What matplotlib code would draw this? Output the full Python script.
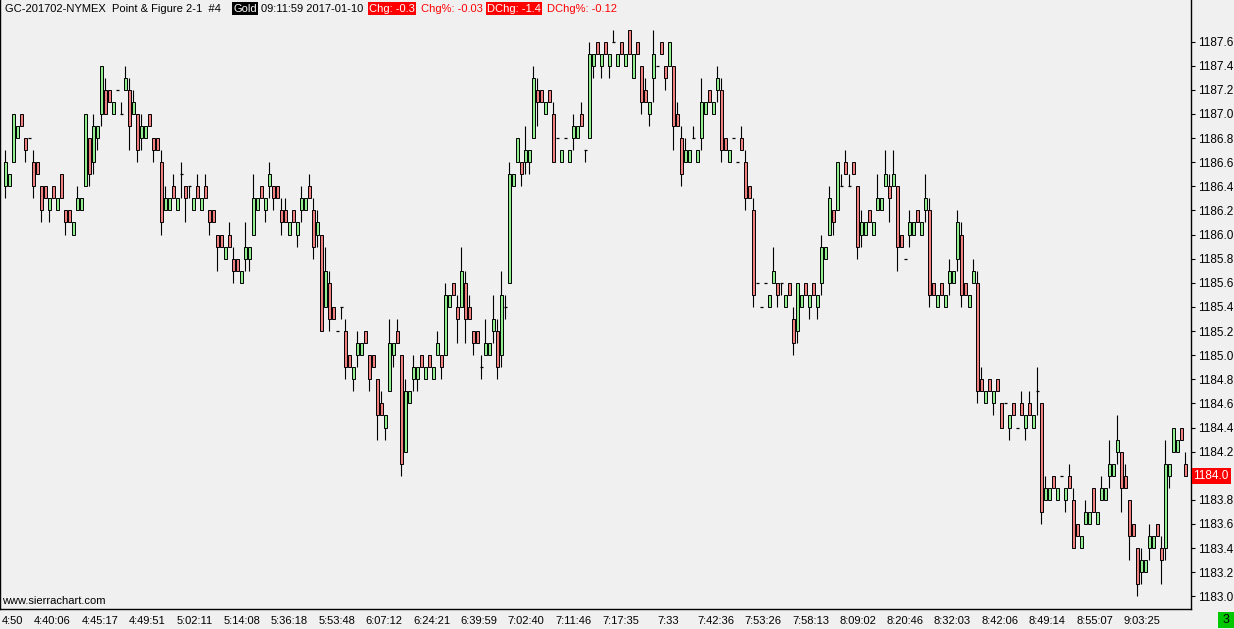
import matplotlib
matplotlib.use('Agg')
import matplotlib.pyplot as plt
from matplotlib.patches import Rectangle
import numpy as np

# Point & Figure columns drawn as candles (open, close, high, low)
opens = [
    1186.4, 1186.4, 1186.6, 1186.8, 1187.0, 1186.8, 1186.8, 1186.6, 1186.6, 1186.4,
    1186.4, 1186.2, 1186.4, 1186.2, 1186.5, 1186.2, 1186.2, 1186.0, 1186.2, 1186.2,
    1186.4, 1186.8, 1186.6, 1186.8, 1187.0, 1187.2, 1187.2, 1187.0, 1187.2, 1187.0,
    1187.2, 1187.2, 1187.0, 1187.0, 1186.8, 1186.8, 1187.0, 1186.8, 1186.8, 1186.6,
    1186.2, 1186.2, 1186.4, 1186.2, 1186.5, 1186.4, 1186.4, 1186.2, 1186.4, 1186.2,
    1186.4, 1186.2, 1186.2, 1186.0, 1186.0, 1185.8, 1186.0, 1185.8, 1185.8, 1185.6,
    1185.8, 1185.8, 1186.0, 1186.2, 1186.4, 1186.2, 1186.4, 1186.4, 1186.4, 1186.2,
    1186.2, 1186.0, 1186.2, 1186.0, 1186.2, 1186.2, 1186.4, 1186.2, 1186.0, 1186.0,
    1185.4, 1185.6, 1185.4, 1185.2, 1185.4, 1185.2, 1185.0, 1184.8, 1185.0, 1185.0,
    1185.2, 1185.0, 1185.0, 1184.8, 1184.6, 1184.4, 1184.7, 1185.0, 1185.2, 1185.0,
    1184.2, 1184.6, 1184.8, 1184.8, 1185.0, 1184.8, 1185.0, 1184.8, 1185.0, 1185.0,
    1185.0, 1185.4, 1185.6, 1185.4, 1185.4, 1185.6, 1185.4, 1185.2, 1185.2, 1184.9,
    1185.0, 1185.0, 1185.2, 1185.2, 1185.0, 1185.4, 1185.6, 1186.4, 1186.6, 1186.6,
    1186.6, 1186.6, 1186.8, 1187.2, 1187.2, 1187.0, 1187.2, 1187.0, 1186.8, 1186.6,
    1186.8, 1186.6, 1186.8, 1186.8, 1187.0, 1186.7, 1186.8, 1187.4, 1187.6, 1187.4,
    1187.6, 1187.4, 1187.6, 1187.4, 1187.6, 1187.4, 1187.7, 1187.3, 1187.6, 1187.4,
    1187.2, 1187.0, 1187.3, 1187.4, 1187.6, 1187.4, 1187.4, 1187.4, 1187.0, 1186.8,
    1186.6, 1186.6, 1186.8, 1186.6, 1186.8, 1187.0, 1187.2, 1187.0, 1187.2, 1187.2,
    1186.8, 1186.6, 1186.8, 1186.6, 1186.8, 1186.6, 1186.4, 1186.2, 1185.6, 1185.4,
    1185.6, 1185.4, 1185.6, 1185.6, 1185.6, 1185.4, 1185.6, 1185.3, 1185.2, 1185.4,
    1185.6, 1185.4, 1185.6, 1185.4, 1185.6, 1185.8, 1186.0, 1186.2, 1186.2, 1186.4,
    1186.6, 1186.4, 1186.6, 1186.4, 1186.0, 1186.0, 1186.2, 1186.0, 1186.2, 1186.2,
    1186.4, 1186.4, 1186.4, 1186.4, 1186.0, 1185.8, 1186.0, 1186.0, 1186.2, 1186.0,
    1186.2, 1186.2, 1185.6, 1185.4, 1185.6, 1185.4, 1185.6, 1185.6, 1185.8, 1186.0,
    1185.6, 1185.4, 1185.6, 1185.6, 1184.8, 1184.6, 1184.8, 1184.6, 1184.8, 1184.6,
    1184.6, 1184.4, 1184.6, 1184.4, 1184.6, 1184.4, 1184.6, 1184.4, 1184.7, 1184.6,
    1183.8, 1183.8, 1184.0, 1183.8, 1184.0, 1183.8, 1184.0, 1183.8, 1183.6, 1183.4,
    1183.6, 1183.6, 1183.9, 1183.6, 1183.8, 1183.8, 1184.0, 1184.0, 1184.2, 1184.2,
    1184.0, 1183.8, 1183.6, 1183.4, 1183.2, 1183.2, 1183.4, 1183.4, 1183.6, 1183.4,
    1183.4, 1184.0, 1184.2, 1184.2, 1184.4, 1184.1,
]
closes = [
    1186.6, 1186.5, 1187.0, 1186.9, 1186.9, 1186.7, 1186.8, 1186.4, 1186.5, 1186.2,
    1186.3, 1186.3, 1186.3, 1186.3, 1186.3, 1186.1, 1186.1, 1186.1, 1186.3, 1186.3,
    1187.0, 1186.5, 1186.9, 1186.9, 1187.4, 1187.0, 1187.1, 1187.1, 1187.2, 1187.0,
    1187.3, 1186.9, 1187.1, 1186.7, 1186.9, 1186.9, 1186.9, 1186.7, 1186.7, 1186.1,
    1186.3, 1186.3, 1186.3, 1186.3, 1186.5, 1186.3, 1186.4, 1186.3, 1186.3, 1186.3,
    1186.3, 1186.1, 1186.1, 1185.9, 1185.9, 1185.9, 1185.9, 1185.7, 1185.7, 1185.7,
    1185.9, 1185.9, 1186.3, 1186.3, 1186.3, 1186.3, 1186.5, 1186.3, 1186.3, 1186.1,
    1186.1, 1186.1, 1186.1, 1186.1, 1186.3, 1186.3, 1186.3, 1185.9, 1186.1, 1185.2,
    1185.7, 1185.3, 1185.3, 1185.2, 1185.4, 1184.9, 1184.9, 1184.9, 1185.1, 1185.1,
    1185.1, 1184.8, 1184.9, 1184.5, 1184.5, 1184.5, 1185.1, 1185.1, 1185.1, 1184.1,
    1184.7, 1184.7, 1184.9, 1184.9, 1184.9, 1184.9, 1184.9, 1184.9, 1185.1, 1184.9,
    1185.5, 1185.5, 1185.5, 1185.3, 1185.7, 1185.3, 1185.3, 1185.1, 1185.1, 1184.9,
    1185.1, 1185.1, 1185.3, 1184.9, 1185.5, 1185.4, 1186.5, 1186.5, 1186.8, 1186.5,
    1186.7, 1186.7, 1187.3, 1187.1, 1187.1, 1187.1, 1187.1, 1186.6, 1186.8, 1186.7,
    1186.8, 1186.7, 1186.9, 1186.9, 1186.9, 1186.7, 1187.5, 1187.5, 1187.5, 1187.5,
    1187.5, 1187.5, 1187.6, 1187.5, 1187.5, 1187.5, 1187.5, 1187.5, 1187.5, 1187.1,
    1187.1, 1187.1, 1187.5, 1187.4, 1187.5, 1187.3, 1187.6, 1186.9, 1186.9, 1186.5,
    1186.7, 1186.7, 1186.8, 1186.7, 1187.1, 1187.1, 1187.1, 1187.1, 1187.3, 1186.7,
    1186.7, 1186.7, 1186.8, 1186.6, 1186.7, 1186.3, 1186.3, 1185.5, 1185.6, 1185.4,
    1185.6, 1185.5, 1185.7, 1185.5, 1185.6, 1185.5, 1185.5, 1185.1, 1185.6, 1185.5,
    1185.5, 1185.5, 1185.5, 1185.5, 1185.9, 1185.9, 1186.3, 1186.1, 1186.6, 1186.4,
    1186.5, 1186.4, 1186.5, 1185.9, 1186.1, 1186.1, 1186.1, 1186.1, 1186.3, 1186.3,
    1186.5, 1186.3, 1186.5, 1185.9, 1185.9, 1185.8, 1186.1, 1186.1, 1186.1, 1186.1,
    1186.3, 1185.5, 1185.5, 1185.5, 1185.5, 1185.5, 1185.7, 1185.7, 1186.1, 1185.5,
    1185.5, 1185.5, 1185.7, 1184.7, 1184.7, 1184.7, 1184.7, 1184.7, 1184.7, 1184.4,
    1184.6, 1184.5, 1184.5, 1184.4, 1184.5, 1184.5, 1184.5, 1184.5, 1184.7, 1183.7,
    1183.9, 1183.9, 1183.9, 1183.9, 1184.0, 1183.9, 1183.9, 1183.4, 1183.5, 1183.5,
    1183.7, 1183.7, 1183.7, 1183.7, 1183.9, 1183.9, 1184.1, 1184.1, 1184.3, 1183.9,
    1183.9, 1183.5, 1183.5, 1183.1, 1183.3, 1183.3, 1183.5, 1183.5, 1183.5, 1183.3,
    1184.1, 1184.1, 1184.4, 1184.3, 1184.3, 1184.0,
]
highs = [
    1186.7, 1186.5, 1187.0, 1186.9, 1187.0, 1186.8, 1186.8, 1186.7, 1186.6, 1186.4,
    1186.4, 1186.3, 1186.4, 1186.3, 1186.5, 1186.2, 1186.2, 1186.1, 1186.4, 1186.3,
    1187.0, 1186.8, 1187.0, 1186.9, 1187.4, 1187.3, 1187.2, 1187.1, 1187.2, 1187.1,
    1187.4, 1187.3, 1187.2, 1187.0, 1187.0, 1186.9, 1187.0, 1186.8, 1186.8, 1186.7,
    1186.4, 1186.3, 1186.5, 1186.3, 1186.6, 1186.4, 1186.4, 1186.3, 1186.5, 1186.3,
    1186.5, 1186.2, 1186.2, 1186.0, 1186.0, 1185.9, 1186.1, 1185.9, 1185.8, 1185.7,
    1186.1, 1185.9, 1186.5, 1186.3, 1186.4, 1186.3, 1186.6, 1186.4, 1186.4, 1186.3,
    1186.3, 1186.1, 1186.2, 1186.1, 1186.4, 1186.3, 1186.5, 1186.3, 1186.2, 1186.0,
    1185.9, 1185.7, 1185.4, 1185.2, 1185.4, 1185.3, 1185.0, 1184.9, 1185.2, 1185.1,
    1185.2, 1185.0, 1185.0, 1184.8, 1184.7, 1184.5, 1185.3, 1185.1, 1185.3, 1185.0,
    1184.8, 1184.7, 1185.0, 1184.9, 1185.0, 1184.9, 1185.0, 1184.9, 1185.2, 1185.0,
    1185.6, 1185.5, 1185.6, 1185.5, 1185.9, 1185.7, 1185.5, 1185.2, 1185.2, 1185.0,
    1185.3, 1185.1, 1185.5, 1185.3, 1185.7, 1185.5, 1186.6, 1186.5, 1186.8, 1186.6,
    1186.9, 1186.7, 1187.4, 1187.3, 1187.2, 1187.1, 1187.2, 1187.1, 1186.8, 1186.7,
    1186.8, 1186.7, 1187.0, 1186.9, 1187.1, 1186.7, 1187.6, 1187.5, 1187.6, 1187.5,
    1187.6, 1187.5, 1187.7, 1187.5, 1187.6, 1187.5, 1187.7, 1187.5, 1187.6, 1187.4,
    1187.3, 1187.1, 1187.7, 1187.4, 1187.6, 1187.4, 1187.6, 1187.4, 1187.1, 1186.9,
    1186.8, 1186.7, 1186.9, 1186.7, 1187.3, 1187.1, 1187.2, 1187.1, 1187.4, 1187.3,
    1186.8, 1186.7, 1186.8, 1186.6, 1186.9, 1186.7, 1186.4, 1186.3, 1185.6, 1185.4,
    1185.6, 1185.5, 1185.9, 1185.6, 1185.6, 1185.5, 1185.6, 1185.4, 1185.6, 1185.5,
    1185.6, 1185.5, 1185.6, 1185.5, 1186.0, 1185.9, 1186.4, 1186.2, 1186.6, 1186.5,
    1186.7, 1186.5, 1186.6, 1186.4, 1186.2, 1186.1, 1186.2, 1186.1, 1186.5, 1186.3,
    1186.7, 1186.5, 1186.7, 1186.4, 1186.0, 1185.8, 1186.2, 1186.1, 1186.2, 1186.1,
    1186.5, 1186.3, 1185.6, 1185.5, 1185.6, 1185.5, 1185.8, 1185.7, 1186.2, 1186.1,
    1185.6, 1185.5, 1185.8, 1185.7, 1184.9, 1184.7, 1184.8, 1184.7, 1184.8, 1184.6,
    1184.6, 1184.5, 1184.6, 1184.4, 1184.7, 1184.5, 1184.7, 1184.5, 1184.9, 1184.6,
    1184.0, 1183.9, 1184.0, 1183.9, 1184.0, 1183.9, 1184.1, 1183.9, 1183.6, 1183.5,
    1183.8, 1183.7, 1183.9, 1183.7, 1184.0, 1183.9, 1184.3, 1184.1, 1184.5, 1184.2,
    1184.1, 1183.8, 1183.6, 1183.4, 1183.4, 1183.3, 1183.6, 1183.5, 1183.6, 1183.5,
    1184.3, 1184.1, 1184.4, 1184.3, 1184.4, 1184.2,
]
lows = [
    1186.3, 1186.4, 1186.6, 1186.8, 1186.9, 1186.6, 1186.8, 1186.3, 1186.5, 1186.1,
    1186.3, 1186.1, 1186.3, 1186.2, 1186.3, 1186.0, 1186.1, 1186.0, 1186.2, 1186.2,
    1186.4, 1186.4, 1186.5, 1186.7, 1186.9, 1187.0, 1187.1, 1187.0, 1187.2, 1187.0,
    1187.2, 1186.7, 1187.0, 1186.6, 1186.7, 1186.8, 1186.9, 1186.6, 1186.7, 1186.0,
    1186.2, 1186.2, 1186.3, 1186.2, 1186.3, 1186.1, 1186.3, 1186.2, 1186.3, 1186.2,
    1186.3, 1186.0, 1186.1, 1185.7, 1185.9, 1185.8, 1185.9, 1185.6, 1185.7, 1185.6,
    1185.7, 1185.7, 1186.0, 1186.2, 1186.3, 1186.1, 1186.3, 1186.2, 1186.3, 1186.0,
    1186.1, 1186.0, 1186.1, 1185.9, 1186.1, 1186.2, 1186.3, 1185.8, 1185.9, 1185.2,
    1185.4, 1185.2, 1185.3, 1185.2, 1185.3, 1184.8, 1184.9, 1184.7, 1184.9, 1185.0,
    1185.1, 1184.7, 1184.9, 1184.3, 1184.5, 1184.3, 1184.7, 1184.9, 1185.1, 1184.0,
    1184.2, 1184.6, 1184.7, 1184.7, 1184.9, 1184.8, 1184.9, 1184.8, 1185.0, 1184.8,
    1185.0, 1185.4, 1185.5, 1185.1, 1185.4, 1185.1, 1185.3, 1185.0, 1185.1, 1184.8,
    1185.0, 1185.0, 1185.1, 1184.8, 1184.9, 1185.3, 1185.6, 1186.4, 1186.6, 1186.4,
    1186.5, 1186.5, 1186.8, 1186.9, 1187.1, 1187.0, 1187.1, 1186.6, 1186.8, 1186.6,
    1186.8, 1186.6, 1186.7, 1186.8, 1186.9, 1186.6, 1186.8, 1187.3, 1187.5, 1187.3,
    1187.5, 1187.3, 1187.6, 1187.4, 1187.5, 1187.4, 1187.5, 1187.3, 1187.5, 1187.0,
    1187.1, 1186.9, 1187.1, 1187.4, 1187.5, 1187.2, 1187.4, 1186.7, 1186.9, 1186.4,
    1186.6, 1186.6, 1186.8, 1186.6, 1186.7, 1187.0, 1187.1, 1187.0, 1187.1, 1186.6,
    1186.7, 1186.6, 1186.8, 1186.6, 1186.7, 1186.2, 1186.3, 1185.4, 1185.6, 1185.4,
    1185.6, 1185.4, 1185.6, 1185.4, 1185.5, 1185.4, 1185.5, 1185.0, 1185.1, 1185.4,
    1185.5, 1185.3, 1185.5, 1185.3, 1185.5, 1185.8, 1186.0, 1186.0, 1186.2, 1186.4,
    1186.5, 1186.4, 1186.5, 1185.8, 1185.9, 1186.0, 1186.1, 1186.0, 1186.2, 1186.2,
    1186.4, 1186.1, 1186.4, 1185.7, 1185.9, 1185.8, 1185.9, 1186.0, 1186.1, 1186.0,
    1186.1, 1185.4, 1185.5, 1185.4, 1185.5, 1185.4, 1185.5, 1185.6, 1185.7, 1185.4,
    1185.5, 1185.4, 1185.6, 1184.6, 1184.7, 1184.6, 1184.7, 1184.5, 1184.7, 1184.4,
    1184.6, 1184.3, 1184.5, 1184.4, 1184.5, 1184.3, 1184.5, 1184.4, 1184.5, 1183.6,
    1183.8, 1183.8, 1183.9, 1183.8, 1184.0, 1183.7, 1183.9, 1183.4, 1183.5, 1183.4,
    1183.6, 1183.6, 1183.7, 1183.6, 1183.8, 1183.8, 1183.9, 1184.0, 1184.1, 1183.7,
    1183.9, 1183.3, 1183.5, 1183.0, 1183.1, 1183.2, 1183.3, 1183.4, 1183.5, 1183.1,
    1183.3, 1183.9, 1184.2, 1184.2, 1184.3, 1184.0,
]

first_label = '4:50'
time_labels = ['4:40:06', '4:45:17', '4:49:51', '5:02:11', '5:14:08', '5:36:18',
               '5:53:48', '6:07:12', '6:24:21', '6:39:59', '7:02:40', '7:11:46',
               '7:17:35', '7:33', '7:42:36', '7:53:26', '7:58:13', '8:09:02',
               '8:20:46', '8:32:03', '8:42:06', '8:49:14', '8:55:07', '9:03:25']
price_ticks = np.round(np.arange(1183.0, 1187.61, 0.2), 1)
last_price = 1184.0

W, H = 1234, 629
BG = '#f0f0f0'
UP = '#90ee90'
DOWN = '#f08080'
FS = 8

plt.rcParams['font.family'] = ['Liberation Sans', 'DejaVu Sans']
plt.rcParams['font.size'] = FS


def fx(px):
    return px / W


def fy(py):
    return 1 - py / H


fig = plt.figure(figsize=(W / 100, H / 100), dpi=100, facecolor=BG)
# plot area: x 0..1191 px, y 0..609 px from the top
ax = fig.add_axes([0, 20 / H, 1191 / W, 609 / H], facecolor=BG)

o = np.array(opens)
c = np.array(closes)
h = np.array(highs)
l = np.array(lows)
x = np.arange(len(o))
up = c > o
down = c < o
flat = c == o

ax.vlines(x, l, h, color='black', linewidth=0.8, zorder=1)
ax.bar(x[up], c[up] - o[up], bottom=o[up], width=0.6, color=UP,
       edgecolor='black', linewidth=0.7, zorder=2)
ax.bar(x[down], o[down] - c[down], bottom=c[down], width=0.6, color=DOWN,
       edgecolor='black', linewidth=0.7, zorder=2)
ax.hlines(o[flat], x[flat] - 0.4, x[flat] + 0.4, color='black',
          linewidth=0.9, zorder=2)

# bar i sits at 5.33 + 4*i px, one 0.1 box is 12.06 px
ax.set_xlim(-5.33 / 4, (1191 - 5.33) / 4)
ax.set_ylim(1184.4 - (609 - 427.5) / 120.6, 1184.4 + 427.5 / 120.6)

ax.yaxis.tick_right()
ax.set_yticks(price_ticks)
ax.set_yticklabels(['' if abs(p - last_price) < 1e-6 else '%.1f' % p
                    for p in price_ticks])
ax.tick_params(axis='y', direction='out', length=3, width=0.8, pad=2,
               labelsize=8.5, colors='black')

label_px = [52.5 + 47.37 * k for k in range(len(time_labels))]
ax.set_xticks([(p - 5.33) / 4 for p in label_px])
ax.set_xticklabels(time_labels)
ax.tick_params(axis='x', length=0, pad=5, labelsize=FS)

ax.spines['top'].set_visible(False)
for side in ['left', 'right', 'bottom']:
    ax.spines[side].set_color('black')
    ax.spines[side].set_linewidth(1.0)

# clipped first time label
fig.text(fx(2), fy(621), first_label, ha='left', va='center', fontsize=FS)

# last price marker on the scale
ax.text(1.002, last_price, '%.1f' % last_price, transform=ax.get_yaxis_transform(),
        ha='left', va='center', color='white', fontsize=8.5,
        bbox=dict(boxstyle='square,pad=0.15', facecolor='#ff0000', edgecolor='none'),
        clip_on=False)

# header line
hy = fy(8.5)
box = dict(boxstyle='square,pad=0.12', edgecolor='none')
fig.text(fx(5), hy, 'GC-201702-NYMEX  Point & Figure 2-1  #4', ha='left', va='center')
fig.text(fx(233), hy, 'Gold', ha='left', va='center', color='white',
         bbox=dict(box, facecolor='black'))
fig.text(fx(261), hy, '09:11:59 2017-01-10', ha='left', va='center')
fig.text(fx(369), hy, 'Chg: -0.3', ha='left', va='center', color='white',
         bbox=dict(box, facecolor='#ff0000'))
fig.text(fx(421), hy, 'Chg%: -0.03', ha='left', va='center', color='#ff0000')
fig.text(fx(487), hy, 'DChg: -1.4', ha='left', va='center', color='white',
         bbox=dict(box, facecolor='#ff0000'))
fig.text(fx(547), hy, 'DChg%: -0.12', ha='left', va='center', color='#ff0000')

fig.text(fx(2), fy(601), 'www.sierrachart.com', ha='left', va='center', fontsize=FS)

# status box bottom right
fig.patches.append(Rectangle((fx(1218), fy(628)), fx(16), 16 / H, transform=fig.transFigure,
                             facecolor='#00c800', edgecolor='none'))
fig.text(fx(1226), fy(620), '3', ha='center', va='center', fontsize=9)

fig.savefig('out.png', dpi=100, facecolor=BG)
